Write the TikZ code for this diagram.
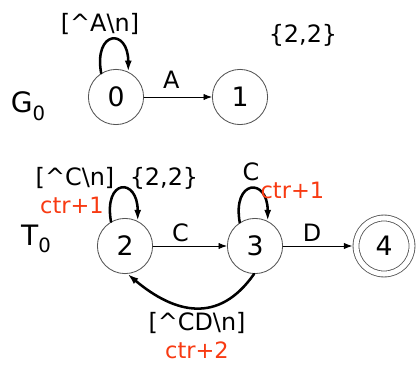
\documentclass[tikz,border=0pt]{standalone}
\usepackage{fontspec}
\setmainfont{DejaVu Sans}
\usetikzlibrary{arrows.meta}
\definecolor{ctrred}{HTML}{F83A12}
\definecolor{ringgray}{HTML}{555555}
\newcommand{\lowsub}[1]{\raisebox{-5pt}{\fontsize{14}{14}\selectfont #1}}

\begin{document}
\begin{tikzpicture}[line cap=round,line join=round,
  state/.style={circle,draw=ringgray,line width=.6pt,minimum size=1.38cm,inner sep=0pt,
    font=\fontsize{19}{19}\selectfont},
  accept/.style={state,double,double distance=3.6pt,minimum size=1.4cm,outer sep=2.6pt},
  edge/.style={line width=.6pt,-{Latex[length=6pt,width=4.5pt]}},
  loopline/.style={line width=1.8pt,-{Latex[length=8pt,width=5pt]}},
  lbl/.style={inner sep=1pt,font=\fontsize{17}{17}\selectfont},
  act/.style={inner sep=1pt,text=ctrred,font=\fontsize{16}{16}\selectfont},
  tag/.style={inner sep=1pt,font=\fontsize{20}{20}\selectfont}]
\path[use as bounding box] (0,0) rectangle (10.425,9.175);
\fill[white] (0,0) rectangle (10.425,9.175);

% G_0 : zwei Zustaende
\node[state] (n0) at (2.9,6.75) {0};
\node[state] (n1) at (6.0,6.75) {1};
\node[tag,anchor=base] (g0) at (0.7,6.35) {G\lowsub{0}};
\draw[edge] (n0) -- node[lbl,above=5pt,pos=.4] (lA) {A} (n1);
\draw[loopline] (n0.122) .. controls +(100:1.1) and +(90:1.1) .. (n0.64);
\node[lbl] (sA) at (2.5,8.575) {[\textasciicircum A\textbackslash n]};
\node[lbl] (cntA) at (7.575,8.3) {\{2,2\}};

% T_0 : Zaehler an den Kanten
\node[state] (n2) at (3.125,3.025) {2};
\node[state] (n3) at (6.375,3.025) {3};
\node[accept] (n4) at (9.6,3.025) {4};
\node[tag,anchor=base] (t0) at (0.9,3.05) {T\lowsub{0}};
\draw[edge] (n2) -- node[lbl,above=2pt,pos=.37] (lC) {C} (n3);
\draw[edge] (n3) -- node[lbl,above=2pt,pos=.42] (lD) {D} (n4);
\draw[loopline] (n2.120) .. controls +(100:1.1) and +(90:1.1) .. (n2.63);
\draw[loopline] (n3.123) .. controls +(100:1.1) and +(90:1.1) .. (n3.63);
\draw[loopline] (n3.268) to[out=235,in=-40,looseness=1.25] (n2.-85);
\node[lbl] (sC2) at (1.875,4.725) {[\textasciicircum C\textbackslash n]};
\node[lbl] (cnt2) at (4.1,4.725) {\{2,2\}};
\node[act] (inc2) at (1.8,4.05) {ctr+1};
\node[lbl] (sC3) at (6.275,4.875) {C};
\node[act] (inc3) at (7.31,4.41) {ctr+1};
\node[lbl] (sCD) at (4.925,1.1) {[\textasciicircum CD\textbackslash n]};
\node[act] (inc4) at (4.925,0.425) {ctr+2};
\end{tikzpicture}
\end{document}
